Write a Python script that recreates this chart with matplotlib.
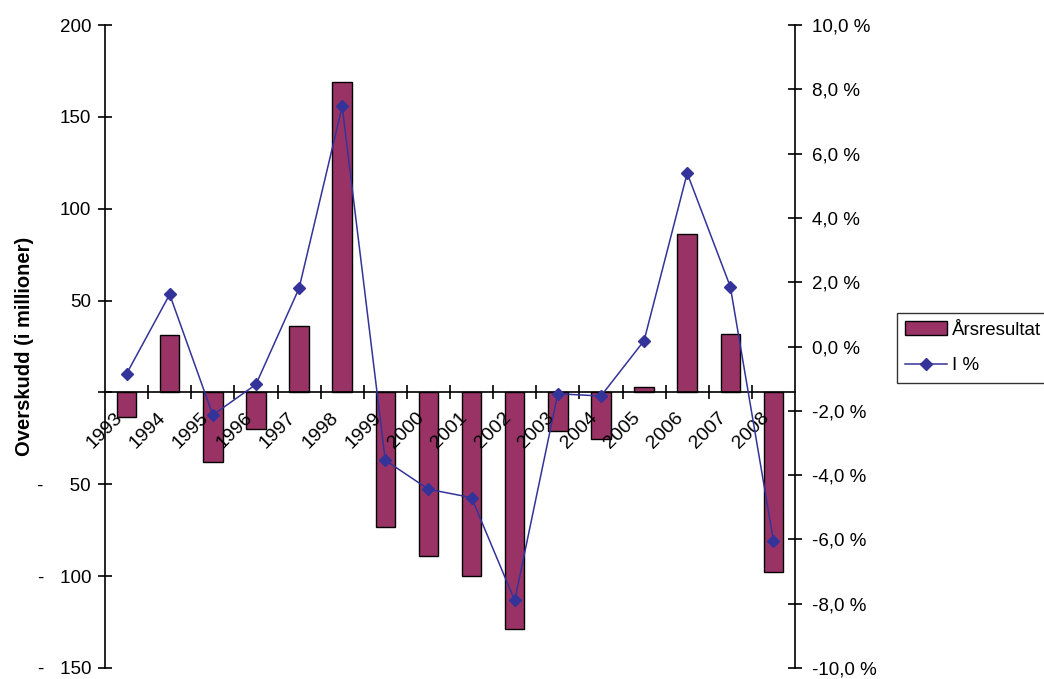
import matplotlib
matplotlib.use("Agg")
import matplotlib.pyplot as plt
import matplotlib.transforms as mtransforms
import numpy as np

plt.rcParams["font.family"] = ["Liberation Sans", "DejaVu Sans"]
plt.rcParams["font.size"] = 13.5

years = [str(y) for y in range(1993, 2009)]
# årsresultat i millioner kroner
resultat = [-13.5, 31, -38, -20, 36, 169, -73, -89, -100, -129, -21, -25.5, 3, 86, 32, -98]
# resultat i prosent
prosent = [-0.85, 1.62, -2.13, -1.18, 1.81, 7.47, -3.54, -4.44, -4.7, -7.9, -1.47, -1.54, 0.18, 5.39, 1.86, -6.04]

left_ticks = [-150, -100, -50, 0, 50, 100, 150, 200]
# minus sign kept in its own column, accounting style
left_labels = ["-   150", "-   100", "-     50", "", "50", "100", "150", "200"]
right_ticks = list(range(-10, 11, 2))

fig = plt.figure(figsize=(10.44, 6.79), dpi=100)
ax = fig.add_axes([105 / 1044, 11 / 679, 690 / 1044, 643 / 679])
ax2 = ax.twinx()

x = np.arange(len(years)) + 0.5
bars = ax.bar(x, resultat, width=0.45, color="#993366", edgecolor="black",
              linewidth=1.0, label="Årsresultat", zorder=2)
line, = ax2.plot(x, prosent, color="#333399", linewidth=1.1, marker="D",
                 markersize=6, label="I %", zorder=3)

ax.set_axisbelow(False)
ax.set_xlim(0, len(years))
ax.set_ylim(-150, 200)
ax.set_yticks(left_ticks)
ax.set_yticklabels(left_labels)
ax.tick_params(axis="y", direction="inout", length=10, width=1.2, pad=5)

ax.spines["top"].set_visible(False)
ax.spines["right"].set_visible(False)
ax.spines["bottom"].set_position(("data", 0))
for s in ["left", "bottom"]:
    ax.spines[s].set_linewidth(1.2)

# category boundaries as tick marks, year names at the centres
ax.set_xticks(np.arange(1, len(years)))
ax.set_xticklabels([])
ax.tick_params(axis="x", which="major", direction="inout", length=10, width=1.2)
ax.set_xticks(x, minor=True)
ax.set_xticklabels(years, minor=True, rotation=45, ha="right", va="top",
                   rotation_mode="anchor", fontsize=14)
ax.tick_params(axis="x", which="minor", length=0, pad=12)
shift = mtransforms.ScaledTranslation(-9 / 72, 0, fig.dpi_scale_trans)
for lab in ax.get_xticklabels(minor=True):
    lab.set_transform(lab.get_transform() + shift)

ax.set_ylabel("Overskudd (i millioner)", fontweight="bold", fontsize=14.5,
              labelpad=2.5)

ax2.set_ylim(-10, 10)
ax2.set_yticks(right_ticks)
ax2.set_yticklabels([f"{v:.1f} %".replace(".", ",") for v in right_ticks])
ax2.tick_params(axis="y", direction="inout", length=10, width=1.2, pad=7)
for s in ["top", "left", "bottom"]:
    ax2.spines[s].set_visible(False)
ax2.spines["right"].set_linewidth(1.2)

fig.legend(handles=[bars, line], labels=["Årsresultat", "I %"],
           loc="upper left", bbox_to_anchor=(897 / 1044, 1 - 313 / 679),
           frameon=True, fancybox=False, edgecolor="black",
           handlelength=2.2, handletextpad=0.3, borderpad=0.45,
           labelspacing=1.0, borderaxespad=0)

fig.savefig("out.png", dpi=100)
